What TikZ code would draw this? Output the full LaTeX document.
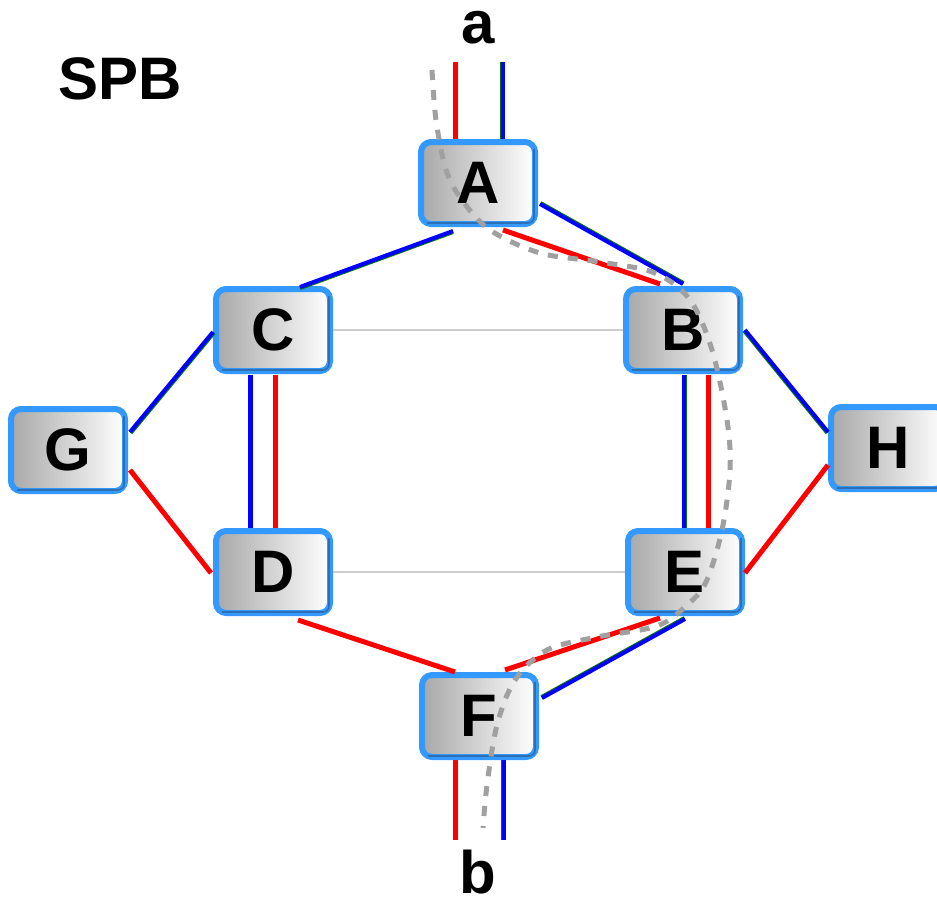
\documentclass[tikz,border=0pt]{standalone}
\usepackage{fontspec}
\setmainfont{Liberation Sans}
\definecolor{boxblue}{RGB}{51,153,255}
\definecolor{boxshade}{RGB}{45,110,180}
\definecolor{linegreen}{RGB}{0,120,0}
\definecolor{pathgray}{RGB}{160,160,160}
\definecolor{thingray}{RGB}{205,205,205}
\begin{document}
\begin{tikzpicture}[x=1pt,y=-1pt,
  netbox/.style={draw=boxblue, line width=6pt, rounded corners=10pt,
    left color={rgb,255:red,168;green,168;blue,168}, right color=white,
    minimum width=114pt, minimum height=82pt, inner sep=0pt,
    font=\fontsize{60}{72}\selectfont\bfseries},
  lbl/.style={font=\fontsize{60}{72}\selectfont\bfseries, inner sep=0pt},
  redl/.style={draw=red, line width=5pt},
  bluel/.style={draw=blue, line width=4pt,
    preaction={draw=linegreen, line width=4pt, transform canvas={shift={#1}}}},
  bluel/.default={(1,0)},
  purebl/.style={draw=blue, line width=5pt},
  grayl/.style={draw=thingray, line width=2pt},
  route/.style={draw=pathgray, line width=5pt, dash pattern=on 10pt off 10pt}
]
\useasboundingbox (0,0) rectangle (937,899);

% nodes
\node[netbox] (A) at (478,183) {A};
\node[netbox] (B) at (683,330) {B};
\node[netbox] (C) at (273,330) {C};
\node[netbox] (D) at (273,572) {D};
\node[netbox] (E) at (685,572) {E};
\node[netbox] (F) at (479,716) {F};
\node[netbox] (G) at (68,450) {G};
\node[netbox] (H) at (888,448) {H};
\foreach \n in {A,B,C,D,E,F,G,H}{
  \draw[boxshade, line width=1.6pt, rounded corners=6pt]
    ([shift={(9,-4)}]\n.south west) -- ([shift={(-4,-4)}]\n.south east) -- ([shift={(-4,10)}]\n.north east);
}

% labels
\node[lbl] (spb) at (120,79) {SPB};
\node[lbl, anchor=base] (la) at (478,44) {a};
\node[lbl, anchor=base] (lb) at (478,893) {b};

% free ends
\coordinate (ar) at (455,62);
\coordinate (ab) at (503,62);
\coordinate (br) at (455,840);
\coordinate (bb) at (504,840);

% gray thin links
\draw[grayl] (C.east) -- (B.west);
\draw[grayl] (D.east) -- (E.west);

% a / b access lines
\draw[redl] (ar) -- (A.north -| ar);
\draw[bluel={(-1,0)}] (ab) -- (A.north -| ab);
\draw[redl] (br) -- (F.south -| br);
\draw[bluel={(-1,0)}] (bb) -- (F.south -| bb);

% A links
\draw[bluel={(0,1)}] ([shift={(-25,48)}]A.center) -- ([shift={(27,-43)}]C.center);
\draw[bluel={(0.5,-0.9)}] ([shift={(62,21)}]A.center) -- ([shift={(0,-46)}]B.center);
\draw[redl] ([shift={(25,47)}]A.center) -- ([shift={(-23,-46)}]B.center);

% C-D, B-E
\draw[purebl] ([shift={(-23,45)}]C.center) -- ([shift={(-23,-44)}]D.center);
\draw[redl] ([shift={(2,45)}]C.center) -- ([shift={(2,-44)}]D.center);
\draw[bluel={(1,0)}] ([shift={(1,45)}]B.center) -- ([shift={(-1,-44)}]E.center);
\draw[redl] ([shift={(25,45)}]B.center) -- ([shift={(23,-44)}]E.center);

% G and H links
\draw[bluel={(0.8,0.8)}] ([shift={(62,-18)}]G.center) -- ([shift={(-60,2)}]C.center);
\draw[redl] ([shift={(62,20)}]G.center) -- ([shift={(-62,1)}]D.center);
\draw[bluel={(-0.8,0.8)}] ([shift={(62,0)}]B.center) -- ([shift={(-60,-16)}]H.center);
\draw[redl] ([shift={(60,1)}]E.center) -- ([shift={(-60,17)}]H.center);

% F links
\draw[redl] ([shift={(25,48)}]D.center) -- ([shift={(-24,-44)}]F.center);
\draw[redl] ([shift={(26,-46)}]F.center) -- ([shift={(-25,46)}]E.center);
\draw[bluel={(-0.5,-0.9)}] ([shift={(63,-18)}]F.center) -- ([shift={(0,47)}]E.center);

% protection route (dashed)
\draw[route] plot[smooth, tension=0.55] coordinates {
  (432,70) (436,120) (446,170) (462,200) (490,230) (540,253) (600,262)
  (655,273) (690,300) (712,350) (727,420) (730,470) (722,530) (706,582)
  (687,605) (657,626) (597,637) (547,650) (515,680) (497,725) (487,785) (483,828)};
\end{tikzpicture}
\end{document}
